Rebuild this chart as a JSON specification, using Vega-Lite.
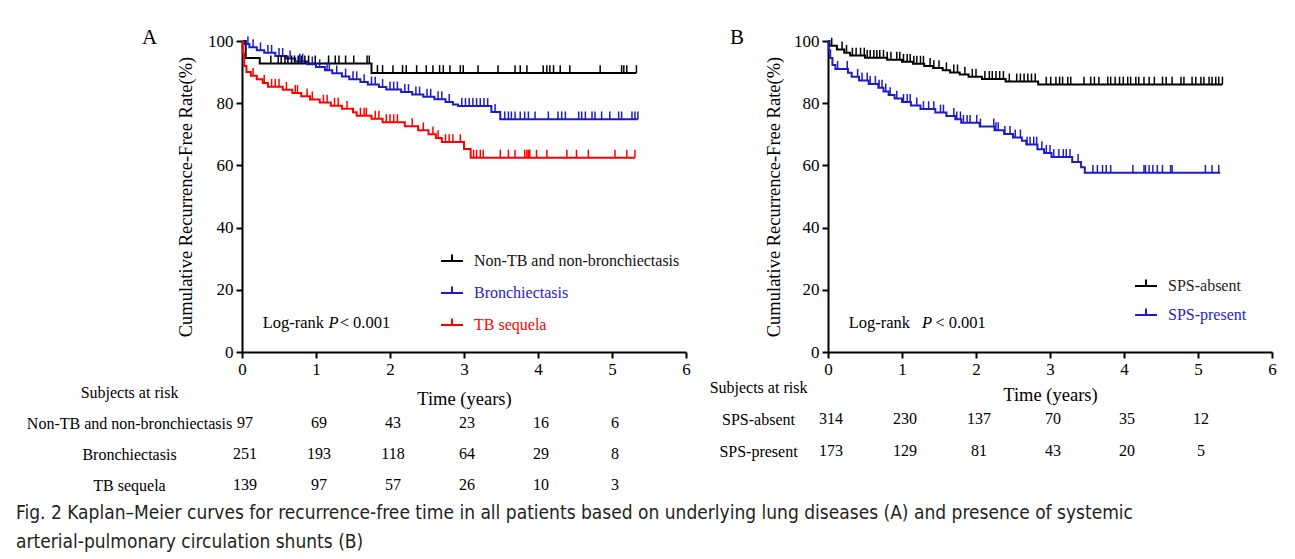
{
  "$schema": "https://vega.github.io/schema/vega-lite/v6.json",
  "autosize": {"type": "none"},
  "padding": {"left": 242, "top": 41, "right": 1053, "bottom": 518},
  "background": "white",
  "config": {
    "view": {"stroke": null},
    "font": "Liberation Serif",
    "axis": {
      "domainColor": "#000", "domainWidth": 2, "tickColor": "#000", "tickWidth": 2, "tickSize": 6,
      "labelFont": "Liberation Serif", "labelFontSize": 17, "labelColor": "#000", "labelPadding": 3,
      "labelFlush": false, "labelOverlap": false,
      "titleFont": "Liberation Serif", "titleFontSize": 18.5, "titleFontWeight": "normal", "titleColor": "#000",
      "grid": false
    }
  },
  "title": {
    "text": ["Fig. 2  Kaplan–Meier curves for recurrence-free time in all patients based on underlying lung diseases (A) and presence of systemic", "arterial-pulmonary circulation shunts (B)"],
    "orient": "bottom", "anchor": "start", "frame": "group", "dx": -226, "offset": 3,
    "font": "Liberation Sans Narrow, DejaVu Sans Condensed, sans-serif", "fontSize": 19, "fontWeight": "normal",
    "color": "#231f20", "lineHeight": 29, "baseline": "top"
  },
  "datasets": {
    "kmA": [
      {"g": "Non-TB and non-bronchiectasis", "t": 0, "s": 100}, {"g": "Non-TB and non-bronchiectasis", "t": 0.05, "s": 94.5}, {"g": "Non-TB and non-bronchiectasis", "t": 0.24, "s": 92.8}, {"g": "Non-TB and non-bronchiectasis", "t": 1.75, "s": 89.7}, {"g": "Non-TB and non-bronchiectasis", "t": 5.33, "s": 89.7},
      {"g": "Bronchiectasis", "t": 0, "s": 100}, {"g": "Bronchiectasis", "t": 0.03, "s": 99}, {"g": "Bronchiectasis", "t": 0.1, "s": 98}, {"g": "Bronchiectasis", "t": 0.2, "s": 97}, {"g": "Bronchiectasis", "t": 0.3, "s": 96.2}, {"g": "Bronchiectasis", "t": 0.45, "s": 95.2}, {"g": "Bronchiectasis", "t": 0.6, "s": 94.4}, {"g": "Bronchiectasis", "t": 0.72, "s": 93.4}, {"g": "Bronchiectasis", "t": 0.88, "s": 92.5}, {"g": "Bronchiectasis", "t": 1.0, "s": 91.6}, {"g": "Bronchiectasis", "t": 1.12, "s": 90.6}, {"g": "Bronchiectasis", "t": 1.22, "s": 89.6}, {"g": "Bronchiectasis", "t": 1.35, "s": 88.6}, {"g": "Bronchiectasis", "t": 1.45, "s": 87.7}, {"g": "Bronchiectasis", "t": 1.6, "s": 86.8}, {"g": "Bronchiectasis", "t": 1.7, "s": 86}, {"g": "Bronchiectasis", "t": 1.85, "s": 85.2}, {"g": "Bronchiectasis", "t": 1.95, "s": 84.4}, {"g": "Bronchiectasis", "t": 2.15, "s": 83.6}, {"g": "Bronchiectasis", "t": 2.3, "s": 82.8}, {"g": "Bronchiectasis", "t": 2.45, "s": 82.1}, {"g": "Bronchiectasis", "t": 2.6, "s": 81.3}, {"g": "Bronchiectasis", "t": 2.75, "s": 80.4}, {"g": "Bronchiectasis", "t": 2.85, "s": 79.6}, {"g": "Bronchiectasis", "t": 2.92, "s": 79.1}, {"g": "Bronchiectasis", "t": 3.37, "s": 77.2}, {"g": "Bronchiectasis", "t": 3.49, "s": 74.8}, {"g": "Bronchiectasis", "t": 5.35, "s": 74.8},
      {"g": "TB sequela", "t": 0, "s": 100}, {"g": "TB sequela", "t": 0.01, "s": 96}, {"g": "TB sequela", "t": 0.03, "s": 92}, {"g": "TB sequela", "t": 0.06, "s": 90}, {"g": "TB sequela", "t": 0.12, "s": 88.8}, {"g": "TB sequela", "t": 0.2, "s": 87.7}, {"g": "TB sequela", "t": 0.28, "s": 86.5}, {"g": "TB sequela", "t": 0.35, "s": 85.3}, {"g": "TB sequela", "t": 0.55, "s": 84.3}, {"g": "TB sequela", "t": 0.68, "s": 83.3}, {"g": "TB sequela", "t": 0.8, "s": 82.2}, {"g": "TB sequela", "t": 0.92, "s": 81.2}, {"g": "TB sequela", "t": 1.05, "s": 80.2}, {"g": "TB sequela", "t": 1.2, "s": 79.2}, {"g": "TB sequela", "t": 1.35, "s": 78.2}, {"g": "TB sequela", "t": 1.5, "s": 77.1}, {"g": "TB sequela", "t": 1.55, "s": 76}, {"g": "TB sequela", "t": 1.75, "s": 75}, {"g": "TB sequela", "t": 1.9, "s": 73.9}, {"g": "TB sequela", "t": 2.2, "s": 72.6}, {"g": "TB sequela", "t": 2.38, "s": 71.3}, {"g": "TB sequela", "t": 2.52, "s": 70}, {"g": "TB sequela", "t": 2.62, "s": 68.8}, {"g": "TB sequela", "t": 2.7, "s": 67.5}, {"g": "TB sequela", "t": 3.0, "s": 65.3}, {"g": "TB sequela", "t": 3.09, "s": 62.5}, {"g": "TB sequela", "t": 5.31, "s": 62.5}
    ],
    "censA": [
      {"g": "Non-TB and non-bronchiectasis", "t": 0.39, "s": 92.8}, {"g": "Non-TB and non-bronchiectasis", "t": 0.49, "s": 92.8}, {"g": "Non-TB and non-bronchiectasis", "t": 0.53, "s": 92.8}, {"g": "Non-TB and non-bronchiectasis", "t": 0.58, "s": 92.8}, {"g": "Non-TB and non-bronchiectasis", "t": 0.62, "s": 92.8}, {"g": "Non-TB and non-bronchiectasis", "t": 0.67, "s": 92.8}, {"g": "Non-TB and non-bronchiectasis", "t": 0.71, "s": 92.8}, {"g": "Non-TB and non-bronchiectasis", "t": 0.76, "s": 92.8}, {"g": "Non-TB and non-bronchiectasis", "t": 0.8, "s": 92.8}, {"g": "Non-TB and non-bronchiectasis", "t": 0.85, "s": 92.8}, {"g": "Non-TB and non-bronchiectasis", "t": 0.9, "s": 92.8}, {"g": "Non-TB and non-bronchiectasis", "t": 0.99, "s": 92.8}, {"g": "Non-TB and non-bronchiectasis", "t": 1.17, "s": 92.8}, {"g": "Non-TB and non-bronchiectasis", "t": 1.26, "s": 92.8}, {"g": "Non-TB and non-bronchiectasis", "t": 1.31, "s": 92.8}, {"g": "Non-TB and non-bronchiectasis", "t": 1.4, "s": 92.8}, {"g": "Non-TB and non-bronchiectasis", "t": 1.51, "s": 92.8}, {"g": "Non-TB and non-bronchiectasis", "t": 1.69, "s": 92.8}, {"g": "Non-TB and non-bronchiectasis", "t": 1.72, "s": 92.8},
      {"g": "Non-TB and non-bronchiectasis", "t": 1.83, "s": 89.7}, {"g": "Non-TB and non-bronchiectasis", "t": 1.9, "s": 89.7}, {"g": "Non-TB and non-bronchiectasis", "t": 2.04, "s": 89.7}, {"g": "Non-TB and non-bronchiectasis", "t": 2.17, "s": 89.7}, {"g": "Non-TB and non-bronchiectasis", "t": 2.22, "s": 89.7}, {"g": "Non-TB and non-bronchiectasis", "t": 2.36, "s": 89.7}, {"g": "Non-TB and non-bronchiectasis", "t": 2.49, "s": 89.7}, {"g": "Non-TB and non-bronchiectasis", "t": 2.58, "s": 89.7}, {"g": "Non-TB and non-bronchiectasis", "t": 2.67, "s": 89.7}, {"g": "Non-TB and non-bronchiectasis", "t": 2.72, "s": 89.7}, {"g": "Non-TB and non-bronchiectasis", "t": 2.81, "s": 89.7}, {"g": "Non-TB and non-bronchiectasis", "t": 2.95, "s": 89.7}, {"g": "Non-TB and non-bronchiectasis", "t": 2.99, "s": 89.7}, {"g": "Non-TB and non-bronchiectasis", "t": 3.19, "s": 89.7}, {"g": "Non-TB and non-bronchiectasis", "t": 3.46, "s": 89.7}, {"g": "Non-TB and non-bronchiectasis", "t": 3.69, "s": 89.7}, {"g": "Non-TB and non-bronchiectasis", "t": 3.76, "s": 89.7}, {"g": "Non-TB and non-bronchiectasis", "t": 3.85, "s": 89.7}, {"g": "Non-TB and non-bronchiectasis", "t": 4.07, "s": 89.7}, {"g": "Non-TB and non-bronchiectasis", "t": 4.12, "s": 89.7}, {"g": "Non-TB and non-bronchiectasis", "t": 4.16, "s": 89.7}, {"g": "Non-TB and non-bronchiectasis", "t": 4.21, "s": 89.7}, {"g": "Non-TB and non-bronchiectasis", "t": 4.3, "s": 89.7}, {"g": "Non-TB and non-bronchiectasis", "t": 4.43, "s": 89.7}, {"g": "Non-TB and non-bronchiectasis", "t": 4.84, "s": 89.7}, {"g": "Non-TB and non-bronchiectasis", "t": 5.13, "s": 89.7}, {"g": "Non-TB and non-bronchiectasis", "t": 5.16, "s": 89.7}, {"g": "Non-TB and non-bronchiectasis", "t": 5.2, "s": 89.7}, {"g": "Non-TB and non-bronchiectasis", "t": 5.33, "s": 89.7},
      {"g": "Bronchiectasis", "t": 0.08, "s": 99}, {"g": "Bronchiectasis", "t": 0.15, "s": 98}, {"g": "Bronchiectasis", "t": 0.25, "s": 97}, {"g": "Bronchiectasis", "t": 0.35, "s": 96.2}, {"g": "Bronchiectasis", "t": 0.4, "s": 96.2}, {"g": "Bronchiectasis", "t": 0.5, "s": 95.2}, {"g": "Bronchiectasis", "t": 0.55, "s": 95.2}, {"g": "Bronchiectasis", "t": 0.65, "s": 94.4}, {"g": "Bronchiectasis", "t": 0.78, "s": 93.4}, {"g": "Bronchiectasis", "t": 0.82, "s": 93.4}, {"g": "Bronchiectasis", "t": 0.95, "s": 92.5}, {"g": "Bronchiectasis", "t": 1.05, "s": 91.6}, {"g": "Bronchiectasis", "t": 1.15, "s": 90.6}, {"g": "Bronchiectasis", "t": 1.18, "s": 90.6}, {"g": "Bronchiectasis", "t": 1.28, "s": 89.6}, {"g": "Bronchiectasis", "t": 1.4, "s": 88.6}, {"g": "Bronchiectasis", "t": 1.5, "s": 87.7}, {"g": "Bronchiectasis", "t": 1.55, "s": 87.7}, {"g": "Bronchiectasis", "t": 1.65, "s": 86.8}, {"g": "Bronchiectasis", "t": 1.75, "s": 86}, {"g": "Bronchiectasis", "t": 1.8, "s": 86}, {"g": "Bronchiectasis", "t": 1.9, "s": 85.2}, {"g": "Bronchiectasis", "t": 2.0, "s": 84.4}, {"g": "Bronchiectasis", "t": 2.05, "s": 84.4}, {"g": "Bronchiectasis", "t": 2.1, "s": 84.4}, {"g": "Bronchiectasis", "t": 2.2, "s": 83.6}, {"g": "Bronchiectasis", "t": 2.25, "s": 83.6}, {"g": "Bronchiectasis", "t": 2.35, "s": 82.8}, {"g": "Bronchiectasis", "t": 2.4, "s": 82.8}, {"g": "Bronchiectasis", "t": 2.5, "s": 82.1}, {"g": "Bronchiectasis", "t": 2.55, "s": 82.1}, {"g": "Bronchiectasis", "t": 2.65, "s": 81.3}, {"g": "Bronchiectasis", "t": 2.7, "s": 81.3}, {"g": "Bronchiectasis", "t": 2.8, "s": 80.4}, {"g": "Bronchiectasis", "t": 2.97, "s": 79.1}, {"g": "Bronchiectasis", "t": 3.02, "s": 79.1}, {"g": "Bronchiectasis", "t": 3.07, "s": 79.1}, {"g": "Bronchiectasis", "t": 3.12, "s": 79.1}, {"g": "Bronchiectasis", "t": 3.17, "s": 79.1}, {"g": "Bronchiectasis", "t": 3.22, "s": 79.1}, {"g": "Bronchiectasis", "t": 3.27, "s": 79.1}, {"g": "Bronchiectasis", "t": 3.32, "s": 79.1}, {"g": "Bronchiectasis", "t": 3.42, "s": 77.2},
      {"g": "Bronchiectasis", "t": 3.55, "s": 74.8}, {"g": "Bronchiectasis", "t": 3.6, "s": 74.8}, {"g": "Bronchiectasis", "t": 3.64, "s": 74.8}, {"g": "Bronchiectasis", "t": 3.69, "s": 74.8}, {"g": "Bronchiectasis", "t": 3.76, "s": 74.8}, {"g": "Bronchiectasis", "t": 3.82, "s": 74.8}, {"g": "Bronchiectasis", "t": 3.87, "s": 74.8}, {"g": "Bronchiectasis", "t": 3.96, "s": 74.8}, {"g": "Bronchiectasis", "t": 4.14, "s": 74.8}, {"g": "Bronchiectasis", "t": 4.27, "s": 74.8}, {"g": "Bronchiectasis", "t": 4.32, "s": 74.8}, {"g": "Bronchiectasis", "t": 4.37, "s": 74.8}, {"g": "Bronchiectasis", "t": 4.55, "s": 74.8}, {"g": "Bronchiectasis", "t": 4.59, "s": 74.8}, {"g": "Bronchiectasis", "t": 4.64, "s": 74.8}, {"g": "Bronchiectasis", "t": 4.73, "s": 74.8}, {"g": "Bronchiectasis", "t": 4.77, "s": 74.8}, {"g": "Bronchiectasis", "t": 4.86, "s": 74.8}, {"g": "Bronchiectasis", "t": 4.97, "s": 74.8}, {"g": "Bronchiectasis", "t": 5.09, "s": 74.8}, {"g": "Bronchiectasis", "t": 5.13, "s": 74.8}, {"g": "Bronchiectasis", "t": 5.27, "s": 74.8}, {"g": "Bronchiectasis", "t": 5.31, "s": 74.8}, {"g": "Bronchiectasis", "t": 5.35, "s": 74.8},
      {"g": "TB sequela", "t": 0.15, "s": 88.8}, {"g": "TB sequela", "t": 0.3, "s": 86.5}, {"g": "TB sequela", "t": 0.4, "s": 85.3}, {"g": "TB sequela", "t": 0.45, "s": 85.3}, {"g": "TB sequela", "t": 0.5, "s": 85.3}, {"g": "TB sequela", "t": 0.6, "s": 84.3}, {"g": "TB sequela", "t": 0.72, "s": 83.3}, {"g": "TB sequela", "t": 0.75, "s": 83.3}, {"g": "TB sequela", "t": 0.88, "s": 82.2}, {"g": "TB sequela", "t": 0.95, "s": 81.2}, {"g": "TB sequela", "t": 1.1, "s": 80.2}, {"g": "TB sequela", "t": 1.15, "s": 80.2}, {"g": "TB sequela", "t": 1.25, "s": 79.2}, {"g": "TB sequela", "t": 1.3, "s": 79.2}, {"g": "TB sequela", "t": 1.42, "s": 78.2}, {"g": "TB sequela", "t": 1.6, "s": 76}, {"g": "TB sequela", "t": 1.65, "s": 76}, {"g": "TB sequela", "t": 1.68, "s": 76}, {"g": "TB sequela", "t": 1.8, "s": 75}, {"g": "TB sequela", "t": 1.85, "s": 75}, {"g": "TB sequela", "t": 1.95, "s": 73.9}, {"g": "TB sequela", "t": 2.0, "s": 73.9}, {"g": "TB sequela", "t": 2.05, "s": 73.9}, {"g": "TB sequela", "t": 2.1, "s": 73.9}, {"g": "TB sequela", "t": 2.3, "s": 72.6}, {"g": "TB sequela", "t": 2.45, "s": 71.3}, {"g": "TB sequela", "t": 2.58, "s": 70}, {"g": "TB sequela", "t": 2.65, "s": 68.8}, {"g": "TB sequela", "t": 2.75, "s": 67.5}, {"g": "TB sequela", "t": 2.8, "s": 67.5}, {"g": "TB sequela", "t": 2.85, "s": 67.5}, {"g": "TB sequela", "t": 2.95, "s": 67.5},
      {"g": "TB sequela", "t": 3.13, "s": 62.5}, {"g": "TB sequela", "t": 3.17, "s": 62.5}, {"g": "TB sequela", "t": 3.22, "s": 62.5}, {"g": "TB sequela", "t": 3.26, "s": 62.5}, {"g": "TB sequela", "t": 3.49, "s": 62.5}, {"g": "TB sequela", "t": 3.6, "s": 62.5}, {"g": "TB sequela", "t": 3.69, "s": 62.5}, {"g": "TB sequela", "t": 3.82, "s": 62.5}, {"g": "TB sequela", "t": 3.85, "s": 62.5}, {"g": "TB sequela", "t": 3.87, "s": 62.5}, {"g": "TB sequela", "t": 3.89, "s": 62.5}, {"g": "TB sequela", "t": 3.98, "s": 62.5}, {"g": "TB sequela", "t": 4.12, "s": 62.5}, {"g": "TB sequela", "t": 4.39, "s": 62.5}, {"g": "TB sequela", "t": 4.52, "s": 62.5}, {"g": "TB sequela", "t": 4.68, "s": 62.5}, {"g": "TB sequela", "t": 5.04, "s": 62.5}, {"g": "TB sequela", "t": 5.2, "s": 62.5}, {"g": "TB sequela", "t": 5.31, "s": 62.5}
    ],
    "kmB": [
      {"g": "SPS-absent", "t": 0, "s": 100}, {"g": "SPS-absent", "t": 0.02, "s": 98.5}, {"g": "SPS-absent", "t": 0.12, "s": 97.3}, {"g": "SPS-absent", "t": 0.22, "s": 96.2}, {"g": "SPS-absent", "t": 0.3, "s": 95.3}, {"g": "SPS-absent", "t": 0.5, "s": 94.6}, {"g": "SPS-absent", "t": 0.8, "s": 94}, {"g": "SPS-absent", "t": 1.0, "s": 93.3}, {"g": "SPS-absent", "t": 1.15, "s": 92.7}, {"g": "SPS-absent", "t": 1.3, "s": 92}, {"g": "SPS-absent", "t": 1.42, "s": 91.3}, {"g": "SPS-absent", "t": 1.55, "s": 90.6}, {"g": "SPS-absent", "t": 1.65, "s": 89.9}, {"g": "SPS-absent", "t": 1.78, "s": 89.2}, {"g": "SPS-absent", "t": 1.9, "s": 88.5}, {"g": "SPS-absent", "t": 2.08, "s": 87.8}, {"g": "SPS-absent", "t": 2.4, "s": 87}, {"g": "SPS-absent", "t": 2.84, "s": 86}, {"g": "SPS-absent", "t": 5.33, "s": 86},
      {"g": "SPS-present", "t": 0, "s": 100}, {"g": "SPS-present", "t": 0.01, "s": 97}, {"g": "SPS-present", "t": 0.03, "s": 94.5}, {"g": "SPS-present", "t": 0.06, "s": 92.3}, {"g": "SPS-present", "t": 0.1, "s": 91}, {"g": "SPS-present", "t": 0.27, "s": 89.8}, {"g": "SPS-present", "t": 0.32, "s": 88.5}, {"g": "SPS-present", "t": 0.42, "s": 87.3}, {"g": "SPS-present", "t": 0.55, "s": 86.2}, {"g": "SPS-present", "t": 0.68, "s": 85}, {"g": "SPS-present", "t": 0.75, "s": 83.8}, {"g": "SPS-present", "t": 0.82, "s": 82.6}, {"g": "SPS-present", "t": 0.9, "s": 81.5}, {"g": "SPS-present", "t": 1.0, "s": 80.4}, {"g": "SPS-present", "t": 1.12, "s": 79.3}, {"g": "SPS-present", "t": 1.25, "s": 78.1}, {"g": "SPS-present", "t": 1.45, "s": 77}, {"g": "SPS-present", "t": 1.6, "s": 75.9}, {"g": "SPS-present", "t": 1.72, "s": 74.8}, {"g": "SPS-present", "t": 1.8, "s": 73.7}, {"g": "SPS-present", "t": 2.05, "s": 72.5}, {"g": "SPS-present", "t": 2.25, "s": 71.3}, {"g": "SPS-present", "t": 2.38, "s": 70.1}, {"g": "SPS-present", "t": 2.5, "s": 69}, {"g": "SPS-present", "t": 2.62, "s": 67.9}, {"g": "SPS-present", "t": 2.68, "s": 66.7}, {"g": "SPS-present", "t": 2.83, "s": 65.2}, {"g": "SPS-present", "t": 2.92, "s": 64}, {"g": "SPS-present", "t": 3.02, "s": 62.7}, {"g": "SPS-present", "t": 3.3, "s": 61.1}, {"g": "SPS-present", "t": 3.42, "s": 59.4}, {"g": "SPS-present", "t": 3.47, "s": 57.6}, {"g": "SPS-present", "t": 5.3, "s": 57.6}
    ],
    "censB": [
      {"g": "SPS-absent", "t": 0.05, "s": 98.5}, {"g": "SPS-absent", "t": 0.19, "s": 97.3}, {"g": "SPS-absent", "t": 0.25, "s": 96.2}, {"g": "SPS-absent", "t": 0.33, "s": 95.3}, {"g": "SPS-absent", "t": 0.38, "s": 95.3}, {"g": "SPS-absent", "t": 0.44, "s": 95.3}, {"g": "SPS-absent", "t": 0.49, "s": 95.3}, {"g": "SPS-absent", "t": 0.53, "s": 94.6}, {"g": "SPS-absent", "t": 0.57, "s": 94.6}, {"g": "SPS-absent", "t": 0.62, "s": 94.6}, {"g": "SPS-absent", "t": 0.66, "s": 94.6}, {"g": "SPS-absent", "t": 0.7, "s": 94.6}, {"g": "SPS-absent", "t": 0.75, "s": 94.6}, {"g": "SPS-absent", "t": 0.8, "s": 94}, {"g": "SPS-absent", "t": 0.85, "s": 94}, {"g": "SPS-absent", "t": 0.93, "s": 94}, {"g": "SPS-absent", "t": 0.97, "s": 94}, {"g": "SPS-absent", "t": 1.02, "s": 93.3}, {"g": "SPS-absent", "t": 1.07, "s": 93.3}, {"g": "SPS-absent", "t": 1.11, "s": 93.3}, {"g": "SPS-absent", "t": 1.16, "s": 92.7}, {"g": "SPS-absent", "t": 1.2, "s": 92.7}, {"g": "SPS-absent", "t": 1.25, "s": 92.7}, {"g": "SPS-absent", "t": 1.29, "s": 92.7}, {"g": "SPS-absent", "t": 1.38, "s": 92}, {"g": "SPS-absent", "t": 1.43, "s": 91.3}, {"g": "SPS-absent", "t": 1.5, "s": 91.3}, {"g": "SPS-absent", "t": 1.6, "s": 90.6}, {"g": "SPS-absent", "t": 1.7, "s": 89.9}, {"g": "SPS-absent", "t": 1.75, "s": 89.9}, {"g": "SPS-absent", "t": 1.85, "s": 89.2}, {"g": "SPS-absent", "t": 1.95, "s": 88.5}, {"g": "SPS-absent", "t": 2.0, "s": 88.5}, {"g": "SPS-absent", "t": 2.12, "s": 87.8}, {"g": "SPS-absent", "t": 2.18, "s": 87.8}, {"g": "SPS-absent", "t": 2.22, "s": 87.8}, {"g": "SPS-absent", "t": 2.27, "s": 87.8}, {"g": "SPS-absent", "t": 2.32, "s": 87.8}, {"g": "SPS-absent", "t": 2.37, "s": 87.8}, {"g": "SPS-absent", "t": 2.45, "s": 87}, {"g": "SPS-absent", "t": 2.55, "s": 87}, {"g": "SPS-absent", "t": 2.6, "s": 87}, {"g": "SPS-absent", "t": 2.65, "s": 87}, {"g": "SPS-absent", "t": 2.7, "s": 87}, {"g": "SPS-absent", "t": 2.75, "s": 87}, {"g": "SPS-absent", "t": 2.8, "s": 87},
      {"g": "SPS-absent", "t": 2.95, "s": 86}, {"g": "SPS-absent", "t": 3.01, "s": 86}, {"g": "SPS-absent", "t": 3.08, "s": 86}, {"g": "SPS-absent", "t": 3.13, "s": 86}, {"g": "SPS-absent", "t": 3.17, "s": 86}, {"g": "SPS-absent", "t": 3.24, "s": 86}, {"g": "SPS-absent", "t": 3.28, "s": 86}, {"g": "SPS-absent", "t": 3.46, "s": 86}, {"g": "SPS-absent", "t": 3.55, "s": 86}, {"g": "SPS-absent", "t": 3.6, "s": 86}, {"g": "SPS-absent", "t": 3.66, "s": 86}, {"g": "SPS-absent", "t": 3.78, "s": 86}, {"g": "SPS-absent", "t": 3.82, "s": 86}, {"g": "SPS-absent", "t": 3.88, "s": 86}, {"g": "SPS-absent", "t": 3.94, "s": 86}, {"g": "SPS-absent", "t": 3.99, "s": 86}, {"g": "SPS-absent", "t": 4.05, "s": 86}, {"g": "SPS-absent", "t": 4.09, "s": 86}, {"g": "SPS-absent", "t": 4.16, "s": 86}, {"g": "SPS-absent", "t": 4.2, "s": 86}, {"g": "SPS-absent", "t": 4.27, "s": 86}, {"g": "SPS-absent", "t": 4.34, "s": 86}, {"g": "SPS-absent", "t": 4.41, "s": 86}, {"g": "SPS-absent", "t": 4.52, "s": 86}, {"g": "SPS-absent", "t": 4.57, "s": 86}, {"g": "SPS-absent", "t": 4.65, "s": 86}, {"g": "SPS-absent", "t": 4.77, "s": 86}, {"g": "SPS-absent", "t": 4.81, "s": 86}, {"g": "SPS-absent", "t": 4.92, "s": 86}, {"g": "SPS-absent", "t": 4.97, "s": 86}, {"g": "SPS-absent", "t": 5.04, "s": 86}, {"g": "SPS-absent", "t": 5.08, "s": 86}, {"g": "SPS-absent", "t": 5.15, "s": 86}, {"g": "SPS-absent", "t": 5.19, "s": 86}, {"g": "SPS-absent", "t": 5.24, "s": 86}, {"g": "SPS-absent", "t": 5.28, "s": 86}, {"g": "SPS-absent", "t": 5.33, "s": 86},
      {"g": "SPS-present", "t": 0.13, "s": 91}, {"g": "SPS-present", "t": 0.26, "s": 91}, {"g": "SPS-present", "t": 0.4, "s": 88.5}, {"g": "SPS-present", "t": 0.46, "s": 87.3}, {"g": "SPS-present", "t": 0.53, "s": 87.3}, {"g": "SPS-present", "t": 0.57, "s": 86.2}, {"g": "SPS-present", "t": 0.64, "s": 86.2}, {"g": "SPS-present", "t": 0.69, "s": 85}, {"g": "SPS-present", "t": 0.73, "s": 85}, {"g": "SPS-present", "t": 0.78, "s": 83.8}, {"g": "SPS-present", "t": 0.84, "s": 82.6}, {"g": "SPS-present", "t": 0.93, "s": 81.5}, {"g": "SPS-present", "t": 1.02, "s": 80.4}, {"g": "SPS-present", "t": 1.07, "s": 80.4}, {"g": "SPS-present", "t": 1.11, "s": 80.4}, {"g": "SPS-present", "t": 1.2, "s": 79.3}, {"g": "SPS-present", "t": 1.29, "s": 78.1}, {"g": "SPS-present", "t": 1.36, "s": 78.1}, {"g": "SPS-present", "t": 1.43, "s": 78.1}, {"g": "SPS-present", "t": 1.52, "s": 77}, {"g": "SPS-present", "t": 1.56, "s": 77}, {"g": "SPS-present", "t": 1.7, "s": 75.9}, {"g": "SPS-present", "t": 1.74, "s": 74.8}, {"g": "SPS-present", "t": 1.79, "s": 74.8}, {"g": "SPS-present", "t": 1.83, "s": 73.7}, {"g": "SPS-present", "t": 1.88, "s": 73.7}, {"g": "SPS-present", "t": 1.92, "s": 73.7}, {"g": "SPS-present", "t": 2.01, "s": 73.7}, {"g": "SPS-present", "t": 2.06, "s": 72.5}, {"g": "SPS-present", "t": 2.24, "s": 72.5}, {"g": "SPS-present", "t": 2.27, "s": 71.3}, {"g": "SPS-present", "t": 2.3, "s": 71.3}, {"g": "SPS-present", "t": 2.39, "s": 70.1}, {"g": "SPS-present", "t": 2.46, "s": 70.1}, {"g": "SPS-present", "t": 2.53, "s": 69}, {"g": "SPS-present", "t": 2.6, "s": 69}, {"g": "SPS-present", "t": 2.69, "s": 66.7}, {"g": "SPS-present", "t": 2.73, "s": 66.7}, {"g": "SPS-present", "t": 2.78, "s": 66.7}, {"g": "SPS-present", "t": 2.82, "s": 66.7}, {"g": "SPS-present", "t": 2.89, "s": 65.2}, {"g": "SPS-present", "t": 2.95, "s": 64}, {"g": "SPS-present", "t": 3.0, "s": 64}, {"g": "SPS-present", "t": 3.05, "s": 62.7}, {"g": "SPS-present", "t": 3.12, "s": 62.7}, {"g": "SPS-present", "t": 3.18, "s": 62.7}, {"g": "SPS-present", "t": 3.22, "s": 62.7}, {"g": "SPS-present", "t": 3.27, "s": 62.7}, {"g": "SPS-present", "t": 3.38, "s": 61.1},
      {"g": "SPS-present", "t": 3.58, "s": 57.6}, {"g": "SPS-present", "t": 3.64, "s": 57.6}, {"g": "SPS-present", "t": 3.71, "s": 57.6}, {"g": "SPS-present", "t": 3.76, "s": 57.6}, {"g": "SPS-present", "t": 3.82, "s": 57.6}, {"g": "SPS-present", "t": 4.12, "s": 57.6}, {"g": "SPS-present", "t": 4.27, "s": 57.6}, {"g": "SPS-present", "t": 4.29, "s": 57.6}, {"g": "SPS-present", "t": 4.34, "s": 57.6}, {"g": "SPS-present", "t": 4.39, "s": 57.6}, {"g": "SPS-present", "t": 4.45, "s": 57.6}, {"g": "SPS-present", "t": 4.52, "s": 57.6}, {"g": "SPS-present", "t": 4.63, "s": 57.6}, {"g": "SPS-present", "t": 4.65, "s": 57.6}, {"g": "SPS-present", "t": 5.1, "s": 57.6}, {"g": "SPS-present", "t": 5.19, "s": 57.6}, {"g": "SPS-present", "t": 5.28, "s": 57.6}
    ],
    "riskA": [
      {"row": "Non-TB and non-bronchiectasis", "t": 0, "n": 97}, {"row": "Non-TB and non-bronchiectasis", "t": 1, "n": 69}, {"row": "Non-TB and non-bronchiectasis", "t": 2, "n": 43}, {"row": "Non-TB and non-bronchiectasis", "t": 3, "n": 23}, {"row": "Non-TB and non-bronchiectasis", "t": 4, "n": 16}, {"row": "Non-TB and non-bronchiectasis", "t": 5, "n": 6},
      {"row": "Bronchiectasis", "t": 0, "n": 251}, {"row": "Bronchiectasis", "t": 1, "n": 193}, {"row": "Bronchiectasis", "t": 2, "n": 118}, {"row": "Bronchiectasis", "t": 3, "n": 64}, {"row": "Bronchiectasis", "t": 4, "n": 29}, {"row": "Bronchiectasis", "t": 5, "n": 8},
      {"row": "TB sequela", "t": 0, "n": 139}, {"row": "TB sequela", "t": 1, "n": 97}, {"row": "TB sequela", "t": 2, "n": 57}, {"row": "TB sequela", "t": 3, "n": 26}, {"row": "TB sequela", "t": 4, "n": 10}, {"row": "TB sequela", "t": 5, "n": 3}
    ],
    "riskB": [
      {"row": "SPS-absent", "t": 0, "n": 314}, {"row": "SPS-absent", "t": 1, "n": 230}, {"row": "SPS-absent", "t": 2, "n": 137}, {"row": "SPS-absent", "t": 3, "n": 70}, {"row": "SPS-absent", "t": 4, "n": 35}, {"row": "SPS-absent", "t": 5, "n": 12},
      {"row": "SPS-present", "t": 0, "n": 173}, {"row": "SPS-present", "t": 1, "n": 129}, {"row": "SPS-present", "t": 2, "n": 81}, {"row": "SPS-present", "t": 3, "n": 43}, {"row": "SPS-present", "t": 4, "n": 20}, {"row": "SPS-present", "t": 5, "n": 5}
    ]
  },
  "hconcat": [
    {
      "vconcat": [
        {
          "width": 444, "height": 311,
          "title": {"text": "A", "anchor": "start", "frame": "group", "dx": -100, "dy": 33, "offset": 0, "baseline": "alphabetic", "font": "Liberation Serif", "fontSize": 21, "fontWeight": "normal", "color": "#000"},
          "layer": [
            {
              "data": {"name": "kmA"},
              "mark": {"type": "line", "interpolate": "step-after", "strokeWidth": 2},
              "encoding": {
                "x": {"field": "t", "type": "quantitative", "scale": {"domain": [0, 6], "nice": false}, "axis": {"values": [0, 1, 2, 3, 4, 5, 6], "format": "d", "title": "Time (years)", "titlePadding": 12}},
                "y": {"field": "s", "type": "quantitative", "scale": {"domain": [0, 100], "nice": false}, "axis": {"values": [0, 20, 40, 60, 80, 100], "format": "d", "title": "Cumulative Recurrence-Free Rate(%)", "titlePadding": 12}},
                "color": {"field": "g", "type": "nominal",
                  "scale": {"domain": ["Non-TB and non-bronchiectasis", "Bronchiectasis", "TB sequela"], "range": ["#000000", "#1c1cc8", "#ff0000"]},
                  "legend": {"title": null, "orient": "none", "legendX": 198, "legendY": 208, "padding": 0,
                    "symbolType": "M-1,0L1,0M0,0L0,-0.6", "symbolSize": 484, "symbolStrokeWidth": 2, "symbolFillColor": "transparent",
                    "labelFont": "Liberation Serif", "labelFontSize": 16, "labelOffset": 10, "labelLimit": 400, "rowPadding": 12,
                    "encode": {"labels": {"update": {"fill": {"signal": "datum.value === 'Bronchiectasis' ? '#2323d2' : datum.value === 'TB sequela' ? '#ff0000' : '#111111'"}}}}}
                }
              }
            },
            {
              "data": {"name": "censA"},
              "mark": {"type": "point", "shape": "M0,0L0,-1", "size": 250, "filled": false, "strokeWidth": 1.5, "opacity": 1},
              "encoding": {
                "x": {"field": "t", "type": "quantitative"},
                "y": {"field": "s", "type": "quantitative"},
                "color": {"field": "g", "type": "nominal", "legend": null}
              }
            },
            {
              "data": {"values": [{"t": 0.28, "s": 9.3, "txt": "Log-rank"}, {"t": 1.32, "s": 9.3, "txt": "< 0.001"}]},
              "mark": {"type": "text", "align": "left", "baseline": "middle", "font": "Liberation Serif", "fontSize": 16.5, "color": "#000"},
              "encoding": {"x": {"field": "t", "type": "quantitative"}, "y": {"field": "s", "type": "quantitative"}, "text": {"field": "txt"}}
            },
            {
              "data": {"values": [{"t": 1.17, "s": 9.3, "txt": "P"}]},
              "mark": {"type": "text", "align": "left", "baseline": "middle", "font": "Liberation Serif", "fontSize": 16.5, "fontStyle": "italic", "color": "#000"},
              "encoding": {"x": {"field": "t", "type": "quantitative"}, "y": {"field": "s", "type": "quantitative"}, "text": {"field": "txt"}}
            }
          ]
        },
        {
          "width": 444, "height": 124,
          "data": {"name": "riskA"},
          "mark": {"type": "text", "font": "Liberation Serif", "fontSize": 16, "dx": 3, "color": "#000"},
          "encoding": {
            "x": {"field": "t", "type": "quantitative", "scale": {"domain": [0, 6], "nice": false}, "axis": null},
            "y": {"field": "row", "type": "nominal", "sort": null,
              "scale": {"domain": ["Subjects at risk", "Non-TB and non-bronchiectasis", "Bronchiectasis", "TB sequela"]},
              "axis": {"title": null, "domain": false, "ticks": false, "labelAlign": "center", "labelPadding": 113, "labelFont": "Liberation Serif", "labelFontSize": 16, "labelColor": "#000", "labelLimit": 400}},
            "text": {"field": "n", "type": "quantitative"}
          }
        }
      ],
      "spacing": 24.5,
      "bounds": "flush",
      "resolve": {"scale": {"x": "independent", "y": "independent"}}
    },
    {
      "vconcat": [
        {
          "width": 444, "height": 311,
          "title": {"text": "B", "anchor": "start", "frame": "group", "dx": -98, "dy": 33, "offset": 0, "baseline": "alphabetic", "font": "Liberation Serif", "fontSize": 21, "fontWeight": "normal", "color": "#000"},
          "layer": [
            {
              "data": {"name": "kmB"},
              "mark": {"type": "line", "interpolate": "step-after", "strokeWidth": 2},
              "encoding": {
                "x": {"field": "t", "type": "quantitative", "scale": {"domain": [0, 6], "nice": false}, "axis": {"values": [0, 1, 2, 3, 4, 5, 6], "format": "d", "title": "Time (years)", "titlePadding": 8}},
                "y": {"field": "s", "type": "quantitative", "scale": {"domain": [0, 100], "nice": false}, "axis": {"values": [0, 20, 40, 60, 80, 100], "format": "d", "title": "Cumulative Recurrence-Free Rate(%)", "titlePadding": 10}},
                "color": {"field": "g", "type": "nominal",
                  "scale": {"domain": ["SPS-absent", "SPS-present"], "range": ["#000000", "#1c1cc8"]},
                  "legend": {"title": null, "orient": "none", "legendX": 306, "legendY": 233, "padding": 0,
                    "symbolType": "M-1,0L1,0M0,0L0,-0.6", "symbolSize": 484, "symbolStrokeWidth": 2, "symbolFillColor": "transparent",
                    "labelFont": "Liberation Serif", "labelFontSize": 16, "labelOffset": 10, "labelLimit": 400, "rowPadding": 9,
                    "encode": {"labels": {"update": {"fill": {"signal": "datum.value === 'SPS-present' ? '#2323d2' : '#222222'"}}}}}
                }
              }
            },
            {
              "data": {"name": "censB"},
              "mark": {"type": "point", "shape": "M0,0L0,-1", "size": 250, "filled": false, "strokeWidth": 1.5, "opacity": 1},
              "encoding": {
                "x": {"field": "t", "type": "quantitative"},
                "y": {"field": "s", "type": "quantitative"},
                "color": {"field": "g", "type": "nominal", "legend": null}
              }
            },
            {
              "data": {"values": [{"t": 0.28, "s": 9.4, "txt": "Log-rank"}, {"t": 1.45, "s": 9.4, "txt": "< 0.001"}]},
              "mark": {"type": "text", "align": "left", "baseline": "middle", "font": "Liberation Serif", "fontSize": 16.5, "color": "#000"},
              "encoding": {"x": {"field": "t", "type": "quantitative"}, "y": {"field": "s", "type": "quantitative"}, "text": {"field": "txt"}}
            },
            {
              "data": {"values": [{"t": 1.27, "s": 9.4, "txt": "P"}]},
              "mark": {"type": "text", "align": "left", "baseline": "middle", "font": "Liberation Serif", "fontSize": 16.5, "fontStyle": "italic", "color": "#000"},
              "encoding": {"x": {"field": "t", "type": "quantitative"}, "y": {"field": "s", "type": "quantitative"}, "text": {"field": "txt"}}
            }
          ]
        },
        {
          "width": 444, "height": 96,
          "data": {"name": "riskB"},
          "mark": {"type": "text", "font": "Liberation Serif", "fontSize": 16, "dx": 3, "color": "#000"},
          "encoding": {
            "x": {"field": "t", "type": "quantitative", "scale": {"domain": [0, 6], "nice": false}, "axis": null},
            "y": {"field": "row", "type": "nominal", "sort": null,
              "scale": {"domain": ["Subjects at risk", "SPS-absent", "SPS-present"]},
              "axis": {"title": null, "domain": false, "ticks": false, "labelAlign": "center", "labelPadding": 70, "labelFont": "Liberation Serif", "labelFontSize": 16, "labelColor": "#000", "labelLimit": 400}},
            "text": {"field": "n", "type": "quantitative"}
          }
        }
      ],
      "spacing": 19,
      "bounds": "flush",
      "resolve": {"scale": {"x": "independent", "y": "independent"}}
    }
  ],
  "spacing": 586,
  "bounds": "flush",
  "resolve": {"scale": {"x": "independent", "y": "independent", "color": "independent"}, "legend": {"color": "independent"}}
}
